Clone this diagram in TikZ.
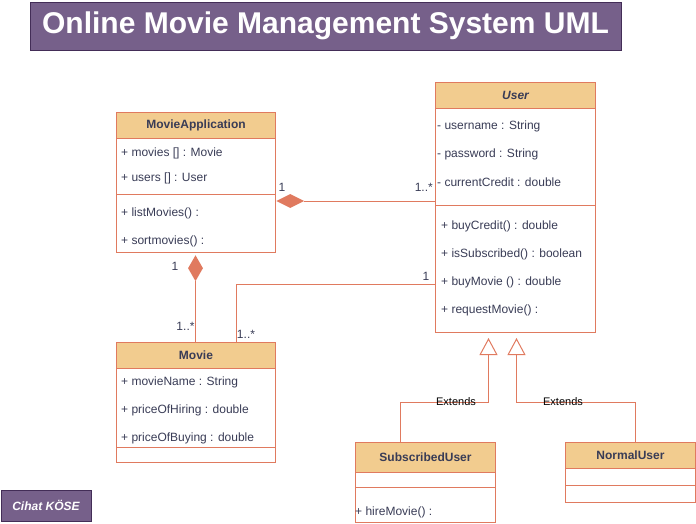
\documentclass[tikz,border=0pt]{standalone}
\usepackage{fontspec}
\setmainfont{Liberation Sans}
\usetikzlibrary{shapes.geometric,arrows.meta}
\definecolor{headerpeach}{HTML}{F2CC8F}
\definecolor{linecoral}{HTML}{E07A5F}
\definecolor{textslate}{HTML}{393C56}
\definecolor{titlepurple}{HTML}{76608A}
\definecolor{titleborder}{HTML}{432D57}

\begin{document}
\begin{tikzpicture}[x=1pt,y=-1pt,
  classhead/.style={draw=linecoral, fill=headerpeach, line width=1pt, anchor=north west, inner sep=0pt,
    minimum width=#1, minimum height=26pt, text=textslate, font=\fontsize{12}{14}\selectfont\bfseries},
  compart/.style={draw=linecoral, fill=white, line width=1pt, anchor=north west, inner sep=0pt, minimum width=#1},
  member/.style={anchor=west, inner sep=0pt, text=textslate, font=\fontsize{12}{14}\selectfont},
  mult/.style={inner sep=0pt, text=textslate, font=\fontsize{12}{14}\selectfont},
  link/.style={draw=linecoral, line width=1pt},
  compdiamond/.style={diamond, fill=linecoral, inner sep=0pt},
  extendsarrow/.style={link, -{Triangle[open,length=17pt,width=18pt]}},
  extlabel/.style={inner sep=0pt, text=black, font=\fontsize{11}{13}\selectfont},
  purplebox/.style={draw=titleborder, fill=titlepurple, line width=1pt, text=white, inner sep=0pt}]
\useasboundingbox (0,0) rectangle (696,523);

% Title and author
\node[purplebox, minimum width=591pt, minimum height=48pt, font=\fontsize{30}{36}\selectfont\bfseries]
  (title) at (325.5,26) {Online Movie Management System UML};
\node[purplebox, minimum width=90pt, minimum height=31pt, font=\fontsize{12}{14}\selectfont\bfseries\itshape]
  (author) at (46,505.5) {Cihat KÖSE};

% MovieApplication
\node[classhead=159pt] (appHead) at (116,112) {MovieApplication};
\node[compart=159pt, minimum height=56pt] (appAttrs) at (116,138) {};
\node[compart=159pt, minimum height=58pt] (appMethods) at (116,194) {};
\foreach \y/\txt [count=\i] in {153/{+ movies [] : Movie}, 178/{+ users [] : User},
    213/{+ listMovies() :}, 241/{+ sortmovies() :}}
  \node[member] (appM\i) at (121,\y) {\txt};

% User
\node[classhead=160pt, font=\fontsize{12}{14}\selectfont\bfseries\itshape] (userHead) at (435,82) {User};
\node[compart=160pt, minimum height=97pt] (userAttrs) at (435,108) {};
\node[compart=160pt, minimum height=127pt] (userMethods) at (435,205) {};
\foreach \y/\txt [count=\i] in {126/{- username : String}, 154/{- password : String}, 182/{- currentCredit : double}}
  \node[member] (userA\i) at (437,\y) {\txt};
\foreach \y/\txt [count=\i] in {226/{+ buyCredit() : double}, 254/{+ isSubscribed() : boolean},
    282/{+ buyMovie () : double}, 310/{+ requestMovie() :}}
  \node[member] (userM\i) at (441,\y) {\txt};

% Movie
\node[classhead=159pt] (movieHead) at (116,342) {Movie};
\node[compart=159pt, minimum height=79pt] (movieAttrs) at (116,368) {};
\node[compart=159pt, minimum height=15pt] (movieMethods) at (116,447) {};
\foreach \y/\txt [count=\i] in {382/{+ movieName : String}, 410/{+ priceOfHiring : double}, 438/{+ priceOfBuying : double}}
  \node[member] (movieA\i) at (121,\y) {\txt};

% SubscribedUser
\node[classhead=140pt, minimum height=30pt] (subHead) at (355,442) {SubscribedUser};
\node[compart=140pt, minimum height=15pt] (subAttrs) at (355,472) {};
\node[compart=140pt, minimum height=35pt] (subMethods) at (355,487) {};
\node[member] (subM1) at (355,512) {+ hireMovie() :};

% NormalUser
\node[classhead=130pt] (normalHead) at (565,442) {NormalUser};
\node[compart=130pt, minimum height=17pt] (normalAttrs) at (565,468) {};
\node[compart=130pt, minimum height=17pt] (normalMethods) at (565,485) {};

% Compositions
\node[compdiamond, minimum width=28pt, minimum height=14pt, anchor=west] (ownsUser) at (276,201) {};
\draw[link] (ownsUser.east) -- (ownsUser.east -| userAttrs.west);
\node[mult] (multAppUser) at (282,187) {1};
\node[mult, anchor=east] (multUserApp) at (433,187) {1..*};

\node[compdiamond, minimum width=15pt, minimum height=26pt, anchor=north] (ownsMovie) at (195.5,255) {};
\draw[link] (ownsMovie.south) -- (ownsMovie.south |- movieHead.north);
\node[mult] (multAppMovie) at (175,266) {1};
\node[mult] (multMovieApp) at (185.5,326) {1..*};

% Association
\draw[link] ([yshift=-15.5pt]userMethods.west) -| ([xshift=40.5pt]movieHead.north);
\node[mult] (multUserMovie) at (426,276) {1};
\node[mult] (multMovieUser) at (246,334) {1..*};

% Inheritance
\draw[extendsarrow] ([xshift=-25pt]subHead.north) -- ++(0,-40) -| ([xshift=-27pt,yshift=-5pt]userMethods.south);
\draw[extendsarrow] ([xshift=5pt]normalHead.north) -- ++(0,-40) -| ([xshift=1pt,yshift=-5pt]userMethods.south);
\node[extlabel] (extSub) at (456,402) {Extends};
\node[extlabel] (extNormal) at (563,402) {Extends};
\end{tikzpicture}
\end{document}
